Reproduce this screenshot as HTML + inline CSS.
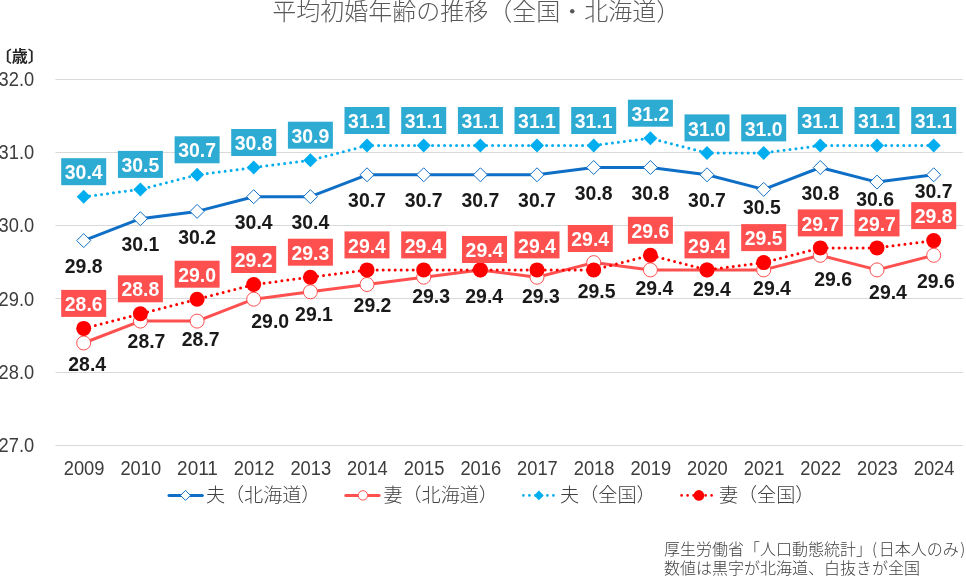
<!DOCTYPE html><html lang="ja"><head><meta charset="utf-8"><title>平均初婚年齢の推移</title>
<style>html,body{margin:0;padding:0;background:#fff}body{width:966px;height:580px;overflow:hidden}svg{display:block}text{font-family:"Liberation Sans","Noto Sans CJK JP",sans-serif}.jp{font-family:"Noto Sans CJK JP","Liberation Sans",sans-serif}.ax{font-size:19.6px;fill:#3d3d3d}.lb{font-size:19.7px;font-weight:bold;text-anchor:middle}.w{fill:#fff}.k{fill:#1a1a1a}</style></head><body>
<svg width="966" height="580" viewBox="0 0 966 580">
<rect width="966" height="580" fill="#fff"/>
<text class="jp" x="272.3" y="19.6" font-size="24" font-weight="300" fill="#595959">平均初婚年齢の推移（全国・北海道）</text>
<text class="jp" x="-4.2" y="62" font-size="16" font-weight="bold" fill="#262626">〔歳〕</text>
<line x1="55.4" x2="962.7" y1="445.5" y2="445.5" stroke="#d9d9d9" stroke-width="1"/>
<text class="ax" x="34.2" y="451.8" text-anchor="end" textLength="35.6" lengthAdjust="spacingAndGlyphs">27.0</text>
<line x1="55.4" x2="962.7" y1="372.5" y2="372.5" stroke="#d9d9d9" stroke-width="1"/>
<text class="ax" x="34.2" y="378.6" text-anchor="end" textLength="35.6" lengthAdjust="spacingAndGlyphs">28.0</text>
<line x1="55.4" x2="962.7" y1="298.5" y2="298.5" stroke="#d9d9d9" stroke-width="1"/>
<text class="ax" x="34.2" y="305.5" text-anchor="end" textLength="35.6" lengthAdjust="spacingAndGlyphs">29.0</text>
<line x1="55.4" x2="962.7" y1="225.5" y2="225.5" stroke="#d9d9d9" stroke-width="1"/>
<text class="ax" x="34.2" y="232.3" text-anchor="end" textLength="35.6" lengthAdjust="spacingAndGlyphs">30.0</text>
<line x1="55.4" x2="962.7" y1="152.5" y2="152.5" stroke="#d9d9d9" stroke-width="1"/>
<text class="ax" x="34.2" y="159.2" text-anchor="end" textLength="35.6" lengthAdjust="spacingAndGlyphs">31.0</text>
<line x1="55.4" x2="962.7" y1="79.5" y2="79.5" stroke="#d9d9d9" stroke-width="1"/>
<text class="ax" x="34.2" y="86.0" text-anchor="end" textLength="35.6" lengthAdjust="spacingAndGlyphs">32.0</text>
<text class="ax" x="84.1" y="474.9" text-anchor="middle" textLength="40.8" lengthAdjust="spacingAndGlyphs">2009</text>
<text class="ax" x="140.8" y="474.9" text-anchor="middle" textLength="40.8" lengthAdjust="spacingAndGlyphs">2010</text>
<text class="ax" x="197.5" y="474.9" text-anchor="middle" textLength="40.8" lengthAdjust="spacingAndGlyphs">2011</text>
<text class="ax" x="254.1" y="474.9" text-anchor="middle" textLength="40.8" lengthAdjust="spacingAndGlyphs">2012</text>
<text class="ax" x="310.8" y="474.9" text-anchor="middle" textLength="40.8" lengthAdjust="spacingAndGlyphs">2013</text>
<text class="ax" x="367.4" y="474.9" text-anchor="middle" textLength="40.8" lengthAdjust="spacingAndGlyphs">2014</text>
<text class="ax" x="424.1" y="474.9" text-anchor="middle" textLength="40.8" lengthAdjust="spacingAndGlyphs">2015</text>
<text class="ax" x="480.8" y="474.9" text-anchor="middle" textLength="40.8" lengthAdjust="spacingAndGlyphs">2016</text>
<text class="ax" x="537.4" y="474.9" text-anchor="middle" textLength="40.8" lengthAdjust="spacingAndGlyphs">2017</text>
<text class="ax" x="594.1" y="474.9" text-anchor="middle" textLength="40.8" lengthAdjust="spacingAndGlyphs">2018</text>
<text class="ax" x="650.8" y="474.9" text-anchor="middle" textLength="40.8" lengthAdjust="spacingAndGlyphs">2019</text>
<text class="ax" x="707.4" y="474.9" text-anchor="middle" textLength="40.8" lengthAdjust="spacingAndGlyphs">2020</text>
<text class="ax" x="764.1" y="474.9" text-anchor="middle" textLength="40.8" lengthAdjust="spacingAndGlyphs">2021</text>
<text class="ax" x="820.7" y="474.9" text-anchor="middle" textLength="40.8" lengthAdjust="spacingAndGlyphs">2022</text>
<text class="ax" x="877.4" y="474.9" text-anchor="middle" textLength="40.8" lengthAdjust="spacingAndGlyphs">2023</text>
<text class="ax" x="934.1" y="474.9" text-anchor="middle" textLength="40.8" lengthAdjust="spacingAndGlyphs">2024</text>
<polyline points="83.7,240.6 140.4,218.7 197.1,211.4 253.7,196.7 310.4,196.7 367.0,174.8 423.7,174.8 480.4,174.8 537.0,174.8 593.7,167.5 650.4,167.5 707.0,174.8 763.7,189.4 820.3,167.5 877.0,182.1 933.7,174.8" fill="none" stroke="#0f6fc6" stroke-width="3" stroke-linejoin="round" stroke-linecap="round"/>
<path d="M83.7 233.6L90.7 240.6L83.7 247.6L76.7 240.6Z" fill="#fff" stroke="#0f6fc6" stroke-width="1"/>
<path d="M140.4 211.7L147.4 218.7L140.4 225.7L133.4 218.7Z" fill="#fff" stroke="#0f6fc6" stroke-width="1"/>
<path d="M197.1 204.4L204.1 211.4L197.1 218.4L190.1 211.4Z" fill="#fff" stroke="#0f6fc6" stroke-width="1"/>
<path d="M253.7 189.7L260.7 196.7L253.7 203.7L246.7 196.7Z" fill="#fff" stroke="#0f6fc6" stroke-width="1"/>
<path d="M310.4 189.7L317.4 196.7L310.4 203.7L303.4 196.7Z" fill="#fff" stroke="#0f6fc6" stroke-width="1"/>
<path d="M367.0 167.8L374.0 174.8L367.0 181.8L360.0 174.8Z" fill="#fff" stroke="#0f6fc6" stroke-width="1"/>
<path d="M423.7 167.8L430.7 174.8L423.7 181.8L416.7 174.8Z" fill="#fff" stroke="#0f6fc6" stroke-width="1"/>
<path d="M480.4 167.8L487.4 174.8L480.4 181.8L473.4 174.8Z" fill="#fff" stroke="#0f6fc6" stroke-width="1"/>
<path d="M537.0 167.8L544.0 174.8L537.0 181.8L530.0 174.8Z" fill="#fff" stroke="#0f6fc6" stroke-width="1"/>
<path d="M593.7 160.5L600.7 167.5L593.7 174.5L586.7 167.5Z" fill="#fff" stroke="#0f6fc6" stroke-width="1"/>
<path d="M650.4 160.5L657.4 167.5L650.4 174.5L643.4 167.5Z" fill="#fff" stroke="#0f6fc6" stroke-width="1"/>
<path d="M707.0 167.8L714.0 174.8L707.0 181.8L700.0 174.8Z" fill="#fff" stroke="#0f6fc6" stroke-width="1"/>
<path d="M763.7 182.4L770.7 189.4L763.7 196.4L756.7 189.4Z" fill="#fff" stroke="#0f6fc6" stroke-width="1"/>
<path d="M820.3 160.5L827.3 167.5L820.3 174.5L813.3 167.5Z" fill="#fff" stroke="#0f6fc6" stroke-width="1"/>
<path d="M877.0 175.1L884.0 182.1L877.0 189.1L870.0 182.1Z" fill="#fff" stroke="#0f6fc6" stroke-width="1"/>
<path d="M933.7 167.8L940.7 174.8L933.7 181.8L926.7 174.8Z" fill="#fff" stroke="#0f6fc6" stroke-width="1"/>
<polyline points="83.7,343.0 140.4,321.1 197.1,321.1 253.7,299.2 310.4,291.8 367.0,284.5 423.7,277.2 480.4,269.9 537.0,277.2 593.7,262.6 650.4,269.9 707.0,269.9 763.7,269.9 820.3,255.3 877.0,269.9 933.7,255.3" fill="none" stroke="#ff5050" stroke-width="3" stroke-linejoin="round" stroke-linecap="round"/>
<circle cx="83.7" cy="343.0" r="7" fill="#fff" stroke="#ff5050" stroke-width="1"/>
<circle cx="140.4" cy="321.1" r="7" fill="#fff" stroke="#ff5050" stroke-width="1"/>
<circle cx="197.1" cy="321.1" r="7" fill="#fff" stroke="#ff5050" stroke-width="1"/>
<circle cx="253.7" cy="299.2" r="7" fill="#fff" stroke="#ff5050" stroke-width="1"/>
<circle cx="310.4" cy="291.8" r="7" fill="#fff" stroke="#ff5050" stroke-width="1"/>
<circle cx="367.0" cy="284.5" r="7" fill="#fff" stroke="#ff5050" stroke-width="1"/>
<circle cx="423.7" cy="277.2" r="7" fill="#fff" stroke="#ff5050" stroke-width="1"/>
<circle cx="480.4" cy="269.9" r="7" fill="#fff" stroke="#ff5050" stroke-width="1"/>
<circle cx="537.0" cy="277.2" r="7" fill="#fff" stroke="#ff5050" stroke-width="1"/>
<circle cx="593.7" cy="262.6" r="7" fill="#fff" stroke="#ff5050" stroke-width="1"/>
<circle cx="650.4" cy="269.9" r="7" fill="#fff" stroke="#ff5050" stroke-width="1"/>
<circle cx="707.0" cy="269.9" r="7" fill="#fff" stroke="#ff5050" stroke-width="1"/>
<circle cx="763.7" cy="269.9" r="7" fill="#fff" stroke="#ff5050" stroke-width="1"/>
<circle cx="820.3" cy="255.3" r="7" fill="#fff" stroke="#ff5050" stroke-width="1"/>
<circle cx="877.0" cy="269.9" r="7" fill="#fff" stroke="#ff5050" stroke-width="1"/>
<circle cx="933.7" cy="255.3" r="7" fill="#fff" stroke="#ff5050" stroke-width="1"/>
<polyline points="83.7,196.7 140.4,189.4 197.1,174.8 253.7,167.5 310.4,160.2 367.0,145.5 423.7,145.5 480.4,145.5 537.0,145.5 593.7,145.5 650.4,138.2 707.0,152.9 763.7,152.9 820.3,145.5 877.0,145.5 933.7,145.5" fill="none" stroke="#00adef" stroke-width="3" stroke-linecap="round" stroke-dasharray="0 6"/>
<path d="M83.7 189.7L90.7 196.7L83.7 203.7L76.7 196.7Z" fill="#00adef"/>
<path d="M140.4 182.4L147.4 189.4L140.4 196.4L133.4 189.4Z" fill="#00adef"/>
<path d="M197.1 167.8L204.1 174.8L197.1 181.8L190.1 174.8Z" fill="#00adef"/>
<path d="M253.7 160.5L260.7 167.5L253.7 174.5L246.7 167.5Z" fill="#00adef"/>
<path d="M310.4 153.2L317.4 160.2L310.4 167.2L303.4 160.2Z" fill="#00adef"/>
<path d="M367.0 138.5L374.0 145.5L367.0 152.5L360.0 145.5Z" fill="#00adef"/>
<path d="M423.7 138.5L430.7 145.5L423.7 152.5L416.7 145.5Z" fill="#00adef"/>
<path d="M480.4 138.5L487.4 145.5L480.4 152.5L473.4 145.5Z" fill="#00adef"/>
<path d="M537.0 138.5L544.0 145.5L537.0 152.5L530.0 145.5Z" fill="#00adef"/>
<path d="M593.7 138.5L600.7 145.5L593.7 152.5L586.7 145.5Z" fill="#00adef"/>
<path d="M650.4 131.2L657.4 138.2L650.4 145.2L643.4 138.2Z" fill="#00adef"/>
<path d="M707.0 145.9L714.0 152.9L707.0 159.9L700.0 152.9Z" fill="#00adef"/>
<path d="M763.7 145.9L770.7 152.9L763.7 159.9L756.7 152.9Z" fill="#00adef"/>
<path d="M820.3 138.5L827.3 145.5L820.3 152.5L813.3 145.5Z" fill="#00adef"/>
<path d="M877.0 138.5L884.0 145.5L877.0 152.5L870.0 145.5Z" fill="#00adef"/>
<path d="M933.7 138.5L940.7 145.5L933.7 152.5L926.7 145.5Z" fill="#00adef"/>
<polyline points="83.7,328.4 140.4,313.8 197.1,299.2 253.7,284.5 310.4,277.2 367.0,269.9 423.7,269.9 480.4,269.9 537.0,269.9 593.7,269.9 650.4,255.3 707.0,269.9 763.7,262.6 820.3,247.9 877.0,247.9 933.7,240.6" fill="none" stroke="#ff0000" stroke-width="3" stroke-linecap="round" stroke-dasharray="0 6"/>
<circle cx="83.7" cy="328.4" r="7.5" fill="#ff0000"/>
<circle cx="140.4" cy="313.8" r="7.5" fill="#ff0000"/>
<circle cx="197.1" cy="299.2" r="7.5" fill="#ff0000"/>
<circle cx="253.7" cy="284.5" r="7.5" fill="#ff0000"/>
<circle cx="310.4" cy="277.2" r="7.5" fill="#ff0000"/>
<circle cx="367.0" cy="269.9" r="7.5" fill="#ff0000"/>
<circle cx="423.7" cy="269.9" r="7.5" fill="#ff0000"/>
<circle cx="480.4" cy="269.9" r="7.5" fill="#ff0000"/>
<circle cx="537.0" cy="269.9" r="7.5" fill="#ff0000"/>
<circle cx="593.7" cy="269.9" r="7.5" fill="#ff0000"/>
<circle cx="650.4" cy="255.3" r="7.5" fill="#ff0000"/>
<circle cx="707.0" cy="269.9" r="7.5" fill="#ff0000"/>
<circle cx="763.7" cy="262.6" r="7.5" fill="#ff0000"/>
<circle cx="820.3" cy="247.9" r="7.5" fill="#ff0000"/>
<circle cx="877.0" cy="247.9" r="7.5" fill="#ff0000"/>
<circle cx="933.7" cy="240.6" r="7.5" fill="#ff0000"/>
<text class="lb k" x="83.7" y="272.8" textLength="37.8" lengthAdjust="spacingAndGlyphs">29.8</text>
<text class="lb k" x="140.4" y="250.9" textLength="37.8" lengthAdjust="spacingAndGlyphs">30.1</text>
<text class="lb k" x="197.1" y="243.6" textLength="37.8" lengthAdjust="spacingAndGlyphs">30.2</text>
<text class="lb k" x="253.7" y="228.9" textLength="37.8" lengthAdjust="spacingAndGlyphs">30.4</text>
<text class="lb k" x="310.4" y="228.9" textLength="37.8" lengthAdjust="spacingAndGlyphs">30.4</text>
<text class="lb k" x="367.0" y="207.0" textLength="37.8" lengthAdjust="spacingAndGlyphs">30.7</text>
<text class="lb k" x="423.7" y="207.0" textLength="37.8" lengthAdjust="spacingAndGlyphs">30.7</text>
<text class="lb k" x="480.4" y="207.0" textLength="37.8" lengthAdjust="spacingAndGlyphs">30.7</text>
<text class="lb k" x="537.0" y="207.0" textLength="37.8" lengthAdjust="spacingAndGlyphs">30.7</text>
<text class="lb k" x="593.7" y="199.7" textLength="37.8" lengthAdjust="spacingAndGlyphs">30.8</text>
<text class="lb k" x="650.4" y="199.7" textLength="37.8" lengthAdjust="spacingAndGlyphs">30.8</text>
<text class="lb k" x="707.0" y="207.0" textLength="37.8" lengthAdjust="spacingAndGlyphs">30.7</text>
<text class="lb k" x="761.8" y="214.3" textLength="37.8" lengthAdjust="spacingAndGlyphs">30.5</text>
<text class="lb k" x="820.3" y="199.7" textLength="37.8" lengthAdjust="spacingAndGlyphs">30.8</text>
<text class="lb k" x="875.1" y="205.9" textLength="37.8" lengthAdjust="spacingAndGlyphs">30.6</text>
<text class="lb k" x="933.6" y="198.1" textLength="37.8" lengthAdjust="spacingAndGlyphs">30.7</text>
<text class="lb k" x="87.2" y="370.9" textLength="37.8" lengthAdjust="spacingAndGlyphs">28.4</text>
<text class="lb k" x="146.5" y="348.4" textLength="37.8" lengthAdjust="spacingAndGlyphs">28.7</text>
<text class="lb k" x="200.7" y="345.9" textLength="37.8" lengthAdjust="spacingAndGlyphs">28.7</text>
<text class="lb k" x="270.2" y="327.9" textLength="37.8" lengthAdjust="spacingAndGlyphs">29.0</text>
<text class="lb k" x="314.0" y="320.8" textLength="37.8" lengthAdjust="spacingAndGlyphs">29.1</text>
<text class="lb k" x="372.5" y="312.1" textLength="37.8" lengthAdjust="spacingAndGlyphs">29.2</text>
<text class="lb k" x="431.1" y="303.1" textLength="37.8" lengthAdjust="spacingAndGlyphs">29.3</text>
<text class="lb k" x="484.2" y="302.7" textLength="37.8" lengthAdjust="spacingAndGlyphs">29.4</text>
<text class="lb k" x="540.9" y="302.7" textLength="37.8" lengthAdjust="spacingAndGlyphs">29.3</text>
<text class="lb k" x="596.6" y="298.1" textLength="37.8" lengthAdjust="spacingAndGlyphs">29.5</text>
<text class="lb k" x="654.3" y="295.2" textLength="37.8" lengthAdjust="spacingAndGlyphs">29.4</text>
<text class="lb k" x="711.8" y="296.4" textLength="37.8" lengthAdjust="spacingAndGlyphs">29.4</text>
<text class="lb k" x="772.0" y="294.6" textLength="37.8" lengthAdjust="spacingAndGlyphs">29.4</text>
<text class="lb k" x="833.1" y="285.8" textLength="37.8" lengthAdjust="spacingAndGlyphs">29.6</text>
<text class="lb k" x="888.0" y="299.4" textLength="37.8" lengthAdjust="spacingAndGlyphs">29.4</text>
<text class="lb k" x="935.8" y="287.6" textLength="37.8" lengthAdjust="spacingAndGlyphs">29.6</text>
<rect x="61.2" y="158.2" width="45" height="27" fill="#2eabd2"/><text class="lb w" x="83.7" y="179.3" textLength="37.8" lengthAdjust="spacingAndGlyphs">30.4</text>
<rect x="117.9" y="150.9" width="45" height="27" fill="#2eabd2"/><text class="lb w" x="140.4" y="172.0" textLength="37.8" lengthAdjust="spacingAndGlyphs">30.5</text>
<rect x="174.6" y="136.3" width="45" height="27" fill="#2eabd2"/><text class="lb w" x="197.1" y="157.4" textLength="37.8" lengthAdjust="spacingAndGlyphs">30.7</text>
<rect x="231.2" y="129.0" width="45" height="27" fill="#2eabd2"/><text class="lb w" x="253.7" y="150.1" textLength="37.8" lengthAdjust="spacingAndGlyphs">30.8</text>
<rect x="287.9" y="121.7" width="45" height="27" fill="#2eabd2"/><text class="lb w" x="310.4" y="142.8" textLength="37.8" lengthAdjust="spacingAndGlyphs">30.9</text>
<rect x="344.5" y="107.0" width="45" height="27" fill="#2eabd2"/><text class="lb w" x="367.0" y="128.1" textLength="37.8" lengthAdjust="spacingAndGlyphs">31.1</text>
<rect x="401.2" y="107.0" width="45" height="27" fill="#2eabd2"/><text class="lb w" x="423.7" y="128.1" textLength="37.8" lengthAdjust="spacingAndGlyphs">31.1</text>
<rect x="457.9" y="107.0" width="45" height="27" fill="#2eabd2"/><text class="lb w" x="480.4" y="128.1" textLength="37.8" lengthAdjust="spacingAndGlyphs">31.1</text>
<rect x="514.5" y="107.0" width="45" height="27" fill="#2eabd2"/><text class="lb w" x="537.0" y="128.1" textLength="37.8" lengthAdjust="spacingAndGlyphs">31.1</text>
<rect x="571.2" y="107.0" width="45" height="27" fill="#2eabd2"/><text class="lb w" x="593.7" y="128.1" textLength="37.8" lengthAdjust="spacingAndGlyphs">31.1</text>
<rect x="627.9" y="99.7" width="45" height="27" fill="#2eabd2"/><text class="lb w" x="650.4" y="120.8" textLength="37.8" lengthAdjust="spacingAndGlyphs">31.2</text>
<rect x="684.5" y="114.4" width="45" height="27" fill="#2eabd2"/><text class="lb w" x="707.0" y="135.5" textLength="37.8" lengthAdjust="spacingAndGlyphs">31.0</text>
<rect x="741.2" y="114.4" width="45" height="27" fill="#2eabd2"/><text class="lb w" x="763.7" y="135.5" textLength="37.8" lengthAdjust="spacingAndGlyphs">31.0</text>
<rect x="797.8" y="107.0" width="45" height="27" fill="#2eabd2"/><text class="lb w" x="820.3" y="128.1" textLength="37.8" lengthAdjust="spacingAndGlyphs">31.1</text>
<rect x="854.5" y="107.0" width="45" height="27" fill="#2eabd2"/><text class="lb w" x="877.0" y="128.1" textLength="37.8" lengthAdjust="spacingAndGlyphs">31.1</text>
<rect x="911.2" y="107.0" width="45" height="27" fill="#2eabd2"/><text class="lb w" x="933.7" y="128.1" textLength="37.8" lengthAdjust="spacingAndGlyphs">31.1</text>
<rect x="61.2" y="289.9" width="45" height="27" fill="#ff5050"/><text class="lb w" x="83.7" y="311.0" textLength="37.8" lengthAdjust="spacingAndGlyphs">28.6</text>
<rect x="117.9" y="275.3" width="45" height="27" fill="#ff5050"/><text class="lb w" x="140.4" y="296.4" textLength="37.8" lengthAdjust="spacingAndGlyphs">28.8</text>
<rect x="174.6" y="260.7" width="45" height="27" fill="#ff5050"/><text class="lb w" x="197.1" y="281.8" textLength="37.8" lengthAdjust="spacingAndGlyphs">29.0</text>
<rect x="231.2" y="246.0" width="45" height="27" fill="#ff5050"/><text class="lb w" x="253.7" y="267.1" textLength="37.8" lengthAdjust="spacingAndGlyphs">29.2</text>
<rect x="287.9" y="238.7" width="45" height="27" fill="#ff5050"/><text class="lb w" x="310.4" y="259.8" textLength="37.8" lengthAdjust="spacingAndGlyphs">29.3</text>
<rect x="344.5" y="231.4" width="45" height="27" fill="#ff5050"/><text class="lb w" x="367.0" y="252.5" textLength="37.8" lengthAdjust="spacingAndGlyphs">29.4</text>
<rect x="401.2" y="231.4" width="45" height="27" fill="#ff5050"/><text class="lb w" x="423.7" y="252.5" textLength="37.8" lengthAdjust="spacingAndGlyphs">29.4</text>
<rect x="462.0" y="236.0" width="45" height="27" fill="#ff5050"/><text class="lb w" x="484.5" y="257.1" textLength="37.8" lengthAdjust="spacingAndGlyphs">29.4</text>
<rect x="514.5" y="231.4" width="45" height="27" fill="#ff5050"/><text class="lb w" x="537.0" y="252.5" textLength="37.8" lengthAdjust="spacingAndGlyphs">29.4</text>
<rect x="567.8" y="225.0" width="45" height="27" fill="#ff5050"/><text class="lb w" x="590.2" y="246.1" textLength="37.8" lengthAdjust="spacingAndGlyphs">29.4</text>
<rect x="627.9" y="216.8" width="45" height="27" fill="#ff5050"/><text class="lb w" x="650.4" y="237.9" textLength="37.8" lengthAdjust="spacingAndGlyphs">29.6</text>
<rect x="684.5" y="231.4" width="45" height="27" fill="#ff5050"/><text class="lb w" x="707.0" y="252.5" textLength="37.8" lengthAdjust="spacingAndGlyphs">29.4</text>
<rect x="741.2" y="224.1" width="45" height="27" fill="#ff5050"/><text class="lb w" x="763.7" y="245.2" textLength="37.8" lengthAdjust="spacingAndGlyphs">29.5</text>
<rect x="797.8" y="209.4" width="45" height="27" fill="#ff5050"/><text class="lb w" x="820.3" y="230.5" textLength="37.8" lengthAdjust="spacingAndGlyphs">29.7</text>
<rect x="854.5" y="209.4" width="45" height="27" fill="#ff5050"/><text class="lb w" x="877.0" y="230.5" textLength="37.8" lengthAdjust="spacingAndGlyphs">29.7</text>
<rect x="911.2" y="202.1" width="45" height="27" fill="#ff5050"/><text class="lb w" x="933.7" y="223.2" textLength="37.8" lengthAdjust="spacingAndGlyphs">29.8</text>
<line x1="169" x2="202.3" y1="495.4" y2="495.4" stroke="#0f6fc6" stroke-width="3" stroke-linecap="round"/><path d="M185.5 490.4L190.5 495.4L185.5 500.4L180.5 495.4Z" fill="#fff" stroke="#0f6fc6" stroke-width="1"/>
<text class="jp" x="205.9" y="502.0" font-size="19.1" font-weight="300" fill="#404040">夫（北海道）</text>
<line x1="345.8" x2="379.1" y1="495.4" y2="495.4" stroke="#ff5050" stroke-width="3" stroke-linecap="round"/><circle cx="362.9" cy="495.4" r="4.7" fill="#fff" stroke="#ff5050" stroke-width="1"/>
<text class="jp" x="383.4" y="502.0" font-size="19.1" font-weight="300" fill="#404040">妻（北海道）</text>
<line x1="523.4" x2="553.5" y1="495.4" y2="495.4" stroke="#00adef" stroke-width="2.7" stroke-linecap="round" stroke-dasharray="0 6"/><path d="M538.9 490.6L543.7 495.4L538.9 500.2L534.1 495.4Z" fill="#00adef"/>
<text class="jp" x="560.1" y="502.0" font-size="19.1" font-weight="300" fill="#404040">夫（全国）</text>
<line x1="681.6" x2="711.7" y1="495.4" y2="495.4" stroke="#ff0000" stroke-width="2.7" stroke-linecap="round" stroke-dasharray="0 6"/><circle cx="698.9" cy="495.4" r="5.3" fill="#ff0000"/>
<text class="jp" x="718.9" y="502.0" font-size="19.1" font-weight="300" fill="#404040">妻（全国）</text>
<text class="jp" x="664" y="554.6" font-size="16" font-weight="300" fill="#404040">厚生労働省「人口動態統計」(<tspan dx="1.6">日本人のみ</tspan><tspan dx="1.6">)</tspan></text>
<text class="jp" x="664" y="573.6" font-size="16" font-weight="300" fill="#404040">数値は黒字が北海道、白抜きが全国</text>
</svg></body></html>
